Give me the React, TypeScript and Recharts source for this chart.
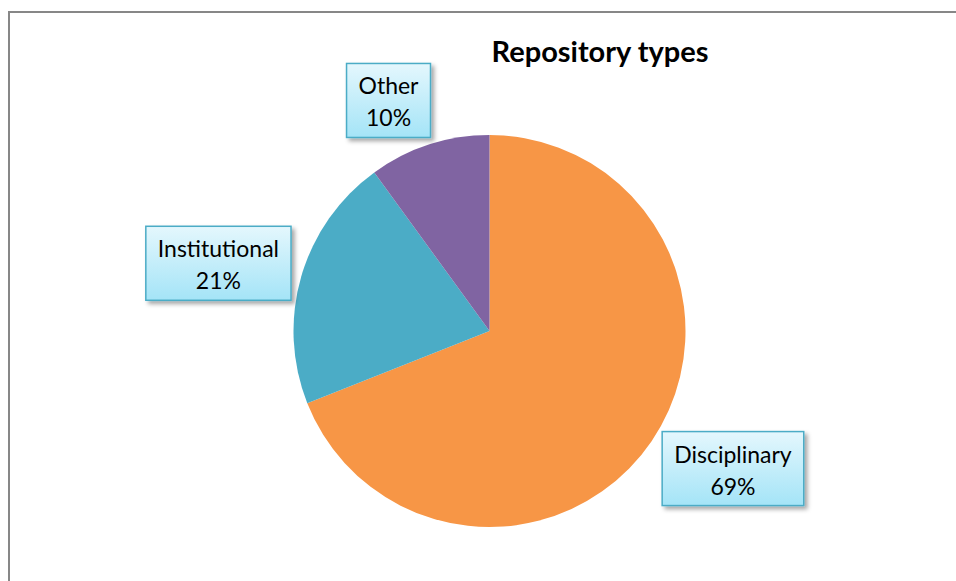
import React from 'react';
import { PieChart, Pie, Cell } from 'recharts';

const categories = ['Disciplinary', 'Institutional', 'Other'];
const shares = [69, 21, 10];
const sliceColors = ['#F79646', '#4BACC6', '#8064A2'];

const chartTitle = 'Repository types';

const data = categories.map((name, i) => ({ name, value: shares[i] }));

const LABEL_FONT = '23px Lato';
const RAD = Math.PI / 180;

// small hand tweaks so the callouts sit where Excel's "best fit" put them
const labelNudge: { [key: string]: [number, number] } = {
  Disciplinary: [16, -17],
  Institutional: [-7, 9],
  Other: [-16, 31],
};

let canvasCtx: CanvasRenderingContext2D | null = null;
function measure(text: string) {
  if (!canvasCtx) canvasCtx = document.createElement('canvas').getContext('2d');
  if (!canvasCtx) return text.length * 11;
  canvasCtx.font = LABEL_FONT;
  return canvasCtx.measureText(text).width;
}

const CalloutLabel = (props: any) => {
  const { cx, cy, midAngle, outerRadius, name, percent } = props;
  const r = outerRadius + 79;
  const [nx, ny] = labelNudge[name] || [0, 0];
  const x = cx + r * Math.cos(-midAngle * RAD) + nx;
  const y = cy + r * Math.sin(-midAngle * RAD) + ny;
  const pct = `${Math.round(percent * 100)}%`;
  const w = Math.max(measure(name), measure(pct)) + 24;
  const h = 74;
  const left = x - w / 2;
  const top = y - h / 2;
  return (
    <g>
      <rect
        x={left}
        y={top}
        width={w}
        height={h}
        fill="url(#calloutFill)"
        stroke="#4BACC6"
        strokeWidth={1.5}
        filter="url(#calloutShadow)"
      />
      <text x={x} y={top + 31} textAnchor="middle" fontFamily="Lato" fontSize={23} fill="#000">
        {name}
      </text>
      <text x={x} y={top + 63} textAnchor="middle" fontFamily="Lato" fontSize={23} fill="#000">
        {pct}
      </text>
    </g>
  );
};

export default function App() {
  return (
    <div
      style={{
        position: 'fixed',
        left: 8,
        top: 11,
        right: 0,
        bottom: 0,
        overflow: 'hidden',
        borderLeft: '2px solid #878787',
        borderTop: '2px solid #878787',
        background: '#fff',
        fontFamily: 'Lato',
      }}
    >
      <style>{'html, body { overflow: hidden; } svg { outline: none; }'}</style>
      <div
        style={{
          position: 'absolute',
          left: 390,
          width: 400,
          top: 20,
          textAlign: 'center',
          fontWeight: 700,
          fontSize: 29,
          color: '#000',
        }}
      >
        {chartTitle}
      </div>
      <svg width={0} height={0} style={{ position: 'absolute' }}>
        <defs>
          <linearGradient id="calloutFill" x1="0" y1="0" x2="0" y2="1">
            <stop offset="0%" stopColor="#E4F7FD" />
            <stop offset="100%" stopColor="#A4E4F7" />
          </linearGradient>
          <filter id="calloutShadow" x="-20%" y="-20%" width="150%" height="150%">
            <feDropShadow dx={3} dy={3} stdDeviation={2} floodColor="#000" floodOpacity={0.35} />
          </filter>
        </defs>
      </svg>
      <PieChart width={940} height={565}>
        <Pie
          data={data}
          dataKey="value"
          nameKey="name"
          cx={474.5}
          cy={313}
          outerRadius={196}
          startAngle={90}
          endAngle={-270}
          stroke="none"
          label={CalloutLabel}
          labelLine={false}
          isAnimationActive={false}
        >
          {data.map((entry, i) => (
            <Cell key={entry.name} fill={sliceColors[i]} />
          ))}
        </Pie>
      </PieChart>
    </div>
  );
}
